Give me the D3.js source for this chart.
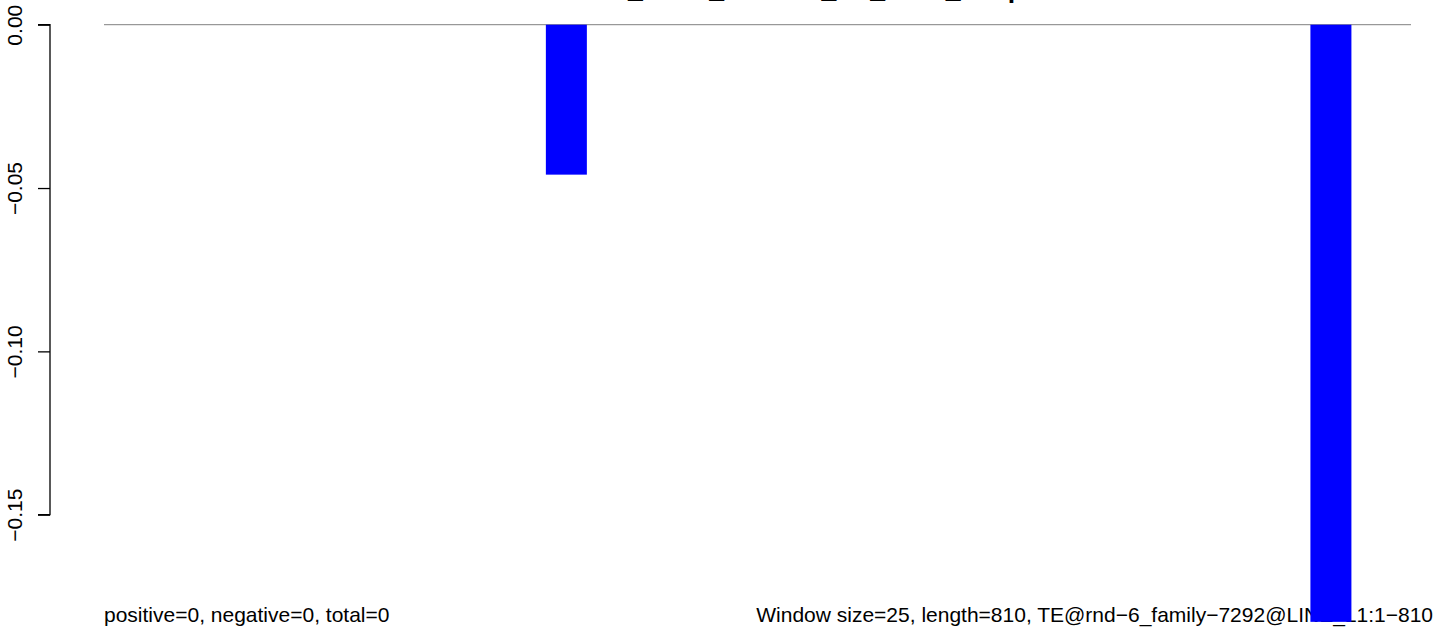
<!DOCTYPE html>
<html><head><meta charset="utf-8">
<script src="https://cdn.jsdelivr.net/npm/d3@7"></script>
<style>
html,body{margin:0;padding:0;background:#fff;}
svg{display:block;font-family:"Liberation Sans",Arial,sans-serif;}
</style></head>
<body>
<svg id="chart" width="1444" height="634"></svg>
<script>
// ---- data ----
const windows = d3.range(1, 28);            // window indices
const values = [0,0,0,0,0,0,0,0,0,-0.0459,0,0,0,0,0,0,0,0,0,0,0,0,0,0,0,-0.1828,0];
const yTicks = [0, -0.05, -0.10, -0.15];
const titleLead = "TE.rnd-7292";
const titleText = titleLead + "_rnd-6_window_TE_LINE_L1: plot";
const leftNote = "positive=0, negative=0, total=0";
const rightNote = "Window size=25, length=810, TE@rnd\u22126_family\u22127292@LINE_L1:1\u2212810";

const svg = d3.select("#chart");
const x = d3.scaleBand().domain(windows).range([104, 1411]).paddingInner(0.142).paddingOuter(0.247);
const y = d3.scaleLinear().domain([-0.15, 0]).range([514.7, 24.7]);

// title (mostly clipped off the top of the page, as in the original)
const probe = svg.append("text").attr("font-weight", "bold").attr("font-size", 26.6).text(titleLead);
const leadW = probe.node().getComputedTextLength();
probe.remove();
svg.append("text").attr("x", 628 - leadW).attr("y", -2.1).attr("text-anchor", "start")
  .attr("font-weight", "bold").attr("font-size", 26.6).text(titleText);

// margin texts (drawn before bars, bars overlap)
svg.append("text").attr("x", 104).attr("y", 622).attr("font-size", 21).text(leftNote);
svg.append("text").attr("x", 1433).attr("y", 622).attr("text-anchor", "end").attr("font-size", 21).text(rightNote);

// zero line
svg.append("line").attr("x1", x.range()[0]).attr("x2", x.range()[1])
  .attr("y1", y(0)).attr("y2", y(0)).attr("stroke", "#808080").attr("stroke-width", 1);

// bars
svg.append("g").selectAll("rect").data(windows.map((w, i) => ({w, v: values[i]})).filter(d => d.v !== 0))
  .join("rect")
  .attr("x", d => x(d.w)).attr("width", x.bandwidth())
  .attr("y", d => y(Math.max(0, d.v))).attr("height", d => Math.abs(y(d.v) - y(0)))
  .attr("fill", "#0000ff");

// y axis
const yAxis = d3.axisLeft(y).tickValues(yTicks).tickFormat(d3.format(".2f")).tickSize(12).tickPadding(0);
const ga = svg.append("g").attr("transform", "translate(50,0)").call(yAxis);
ga.select(".domain").attr("d", `M-12,${y(0)}H0V${y(-0.15)}H-12`).attr("stroke", "#000").attr("stroke-width", 1.3);
ga.selectAll(".tick line").attr("stroke", "#000").attr("stroke-width", 1.3);
ga.selectAll(".tick text")
  .attr("font-size", 21).attr("font-family", "Liberation Sans, Arial, sans-serif").attr("fill", "#000")
  .attr("text-anchor", "middle")
  .attr("x", null).attr("dy", null)
  .attr("transform", "translate(-28.5,0) rotate(-90)")
  .attr("y", 0);
</script>
</body></html>
